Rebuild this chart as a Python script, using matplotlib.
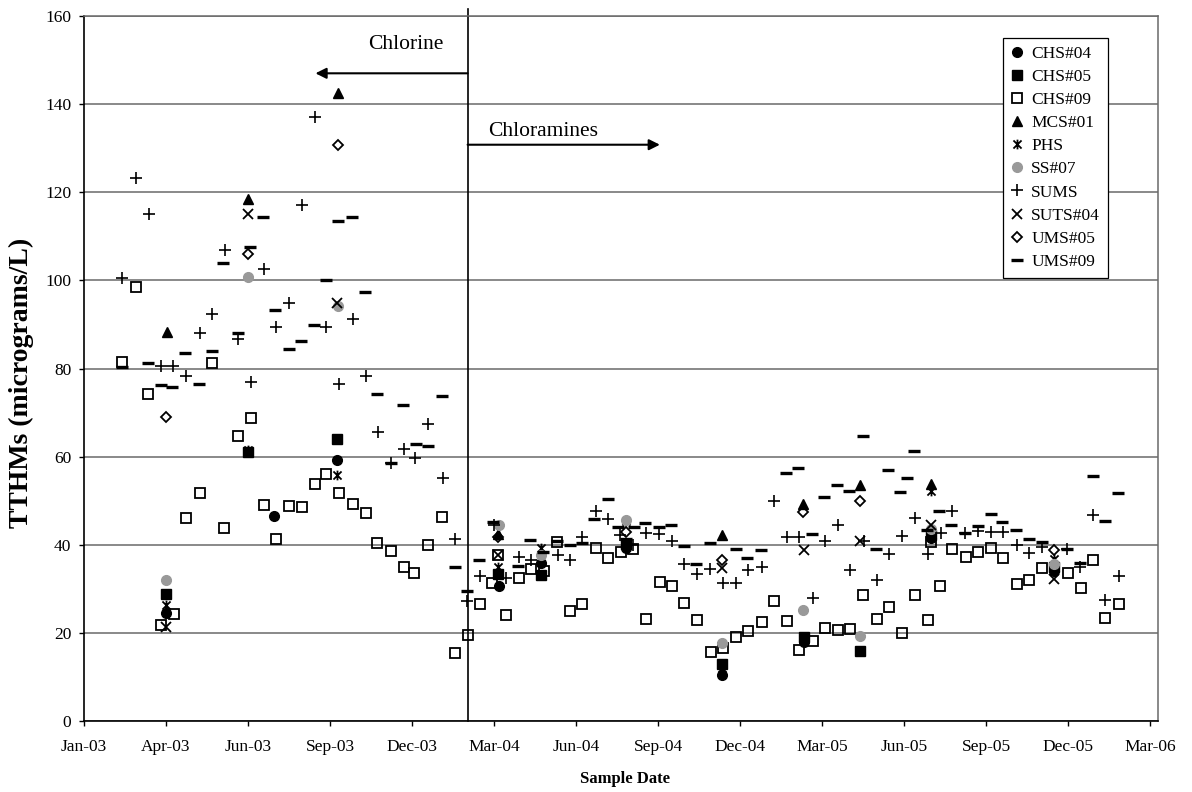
import pandas as pd
import matplotlib
matplotlib.use("Agg")
import matplotlib.pyplot as plt
import matplotlib.dates as mdates
from matplotlib.path import Path

plt.rcParams['font.family'] = ['Liberation Serif', 'DejaVu Serif']

# sample data (TTHMs, micrograms/L)
chs04_dates = ['2003-04-01', '2003-07-29', '2003-10-06', '2004-03-31', '2004-05-17', '2004-08-18',
               '2004-12-01', '2005-03-01', '2005-07-19', '2005-11-30']
chs04_vals = [24.6, 46.6, 59.3, 30.6, 36.0, 39.3, 10.5, 18.0, 41.5, 34.2]

chs05_dates = ['2003-04-01', '2003-06-30', '2003-10-06', '2004-03-30', '2004-05-17', '2004-08-18',
               '2004-12-01', '2005-03-01', '2005-05-02', '2005-07-19', '2005-11-30']
chs05_vals = [28.8, 61.0, 64.1, 33.5, 33.3, 40.2, 13.1, 19.2, 16.0, 42.2, 34.9]

chs09_dates = ['2003-02-12', '2003-02-27', '2003-03-12', '2003-03-27', '2003-04-10', '2003-04-23',
               '2003-05-08', '2003-05-22', '2003-06-04', '2003-06-19', '2003-07-03', '2003-07-17',
               '2003-07-31', '2003-08-14', '2003-08-28', '2003-09-11', '2003-09-24', '2003-10-08',
               '2003-10-23', '2003-11-06', '2003-11-19', '2003-12-04', '2003-12-18', '2003-12-29',
               '2004-01-14', '2004-01-29', '2004-02-12', '2004-02-26', '2004-03-11', '2004-03-24',
               '2004-03-30', '2004-04-08', '2004-04-22', '2004-05-06', '2004-05-20', '2004-06-03',
               '2004-06-17', '2004-07-01', '2004-07-16', '2004-07-29', '2004-08-12', '2004-08-26',
               '2004-09-09', '2004-09-24', '2004-10-07', '2004-10-21', '2004-11-04', '2004-11-19',
               '2004-12-02', '2004-12-17', '2004-12-30', '2005-01-14', '2005-01-27', '2005-02-10',
               '2005-02-24', '2005-03-11', '2005-03-24', '2005-04-07', '2005-04-21', '2005-05-05',
               '2005-05-20', '2005-06-02', '2005-06-17', '2005-07-01', '2005-07-15', '2005-07-19',
               '2005-07-28', '2005-08-11', '2005-08-26', '2005-09-08', '2005-09-22', '2005-10-06',
               '2005-10-21', '2005-11-03', '2005-11-17', '2005-12-16', '2005-12-30', '2006-01-12',
               '2006-01-26', '2006-02-10']
chs09_vals = [81.6, 98.6, 74.3, 21.8, 24.3, 46.1, 51.8, 81.2, 43.9, 64.8, 68.9, 49.1,
              41.4, 48.9, 48.6, 53.9, 56.1, 51.8, 49.3, 47.3, 40.5, 38.6, 35.0, 33.6,
              40.0, 46.4, 15.6, 19.5, 26.6, 31.4, 37.7, 24.2, 32.5, 34.6, 34.2, 40.7,
              25.1, 26.7, 39.3, 37.1, 38.4, 39.0, 23.2, 31.5, 30.6, 26.9, 22.9, 15.8,
              16.7, 19.2, 20.5, 22.6, 27.3, 22.7, 16.2, 18.3, 21.1, 20.8, 20.9, 28.6,
              23.1, 26.0, 20.1, 28.6, 22.9, 40.7, 30.7, 39.0, 37.3, 38.4, 39.3, 37.1,
              31.1, 32.0, 34.7, 33.7, 30.3, 36.5, 23.5, 26.7]

mcs01_dates = ['2003-04-02', '2003-06-30', '2003-10-07', '2004-03-30', '2004-12-01', '2005-02-28',
               '2005-05-02', '2005-07-19']
mcs01_vals = [88.4, 118.4, 142.5, 42.6, 42.2, 49.4, 53.7, 53.9]

phs_dates = ['2003-04-01', '2003-06-30', '2003-10-06', '2004-03-30', '2004-05-17', '2004-08-18',
             '2004-12-01', '2005-03-01', '2005-07-19', '2005-11-30']
phs_vals = [26.4, 61.6, 55.9, 35.0, 39.4, 45.5, 12.0, 18.6, 52.3, 36.8]

ss07_dates = ['2003-04-01', '2003-06-30', '2003-10-07', '2004-03-31', '2004-05-17', '2004-08-18',
              '2004-12-01', '2005-02-28', '2005-05-02', '2005-07-19', '2005-11-30']
ss07_vals = [32.0, 100.9, 94.3, 44.6, 37.8, 45.6, 17.8, 25.2, 19.4, 43.7, 35.6]

sums_dates = ['2003-02-12', '2003-02-27', '2003-03-13', '2003-03-26', '2003-04-09', '2003-04-23',
              '2003-05-08', '2003-05-22', '2003-06-05', '2003-06-19', '2003-07-03', '2003-07-17',
              '2003-07-31', '2003-08-14', '2003-08-28', '2003-09-11', '2003-09-24', '2003-10-08',
              '2003-10-23', '2003-11-06', '2003-11-20', '2003-12-04', '2003-12-18', '2003-12-30',
              '2004-01-14', '2004-01-30', '2004-02-12', '2004-02-25', '2004-03-11', '2004-03-26',
              '2004-04-08', '2004-04-22', '2004-05-06', '2004-06-04', '2004-06-17', '2004-07-01',
              '2004-07-16', '2004-07-29', '2004-08-11', '2004-08-26', '2004-09-09', '2004-09-23',
              '2004-10-07', '2004-10-21', '2004-11-04', '2004-11-18', '2004-12-02', '2004-12-17',
              '2004-12-30', '2005-01-14', '2005-01-27', '2005-02-10', '2005-02-24', '2005-03-11',
              '2005-03-24', '2005-04-07', '2005-04-21', '2005-05-06', '2005-05-20', '2005-06-02',
              '2005-06-17', '2005-07-01', '2005-07-15', '2005-07-29', '2005-08-11', '2005-08-25',
              '2005-09-08', '2005-09-22', '2005-10-06', '2005-10-21', '2005-11-03', '2005-11-17',
              '2005-12-15', '2005-12-29', '2006-01-12', '2006-01-26', '2006-02-10']
sums_vals = [100.5, 123.2, 115.0, 80.5, 80.5, 78.4, 88.0, 92.5, 107.0, 86.8, 77.0, 102.5,
             89.5, 94.8, 117.2, 137.0, 89.4, 76.6, 91.3, 78.4, 65.7, 58.6, 61.8, 59.8,
             67.5, 55.2, 41.4, 27.3, 32.9, 44.5, 32.6, 37.3, 36.5, 37.8, 36.5, 41.8,
             47.7, 45.8, 42.2, 39.9, 42.8, 42.4, 40.9, 35.6, 33.5, 34.6, 31.3, 31.3,
             34.3, 35.0, 50.0, 41.7, 41.8, 27.9, 40.8, 44.5, 34.4, 41.0, 32.0, 37.9,
             42.0, 46.1, 38.0, 42.7, 47.7, 42.8, 43.2, 42.9, 42.9, 39.9, 38.2, 39.5,
             39.0, 34.9, 46.7, 27.6, 32.9]

suts04_dates = ['2003-04-01', '2003-06-30', '2003-10-06', '2004-03-30', '2004-12-01', '2005-03-01',
                '2005-05-02', '2005-07-19', '2005-11-30']
suts04_vals = [21.4, 115.0, 94.8, 37.7, 34.8, 38.8, 40.8, 44.5, 32.3]

ums05_dates = ['2003-04-01', '2003-06-30', '2003-10-07', '2004-03-30', '2004-08-18', '2004-12-01',
               '2005-02-28', '2005-05-02', '2005-11-30']
ums05_vals = [69.1, 106.0, 130.7, 41.8, 42.9, 36.5, 47.4, 49.9, 38.8]

ums09_dates = ['2003-02-12', '2003-03-12', '2003-03-26', '2003-04-08', '2003-04-22', '2003-05-07',
               '2003-05-21', '2003-06-03', '2003-06-19', '2003-07-02', '2003-07-16', '2003-07-30',
               '2003-08-14', '2003-08-27', '2003-09-10', '2003-09-24', '2003-10-07', '2003-10-22',
               '2003-11-05', '2003-11-19', '2003-12-04', '2003-12-17', '2003-12-31', '2004-01-14',
               '2004-01-29', '2004-02-12', '2004-02-25', '2004-03-10', '2004-03-25', '2004-04-21',
               '2004-05-05', '2004-05-19', '2004-06-03', '2004-06-17', '2004-07-01', '2004-07-14',
               '2004-07-29', '2004-08-09', '2004-08-18', '2004-08-27', '2004-09-08', '2004-09-23',
               '2004-10-06', '2004-10-20', '2004-11-03', '2004-11-18', '2004-12-16', '2004-12-29',
               '2005-01-13', '2005-02-09', '2005-02-23', '2005-03-10', '2005-03-23', '2005-04-06',
               '2005-04-20', '2005-05-05', '2005-05-19', '2005-06-01', '2005-06-15', '2005-06-22',
               '2005-06-30', '2005-07-14', '2005-07-27', '2005-08-10', '2005-08-25', '2005-09-08',
               '2005-09-22', '2005-10-05', '2005-10-20', '2005-11-03', '2005-11-17', '2005-12-15',
               '2005-12-29', '2006-01-12', '2006-01-25', '2006-02-09']
ums09_vals = [80.3, 81.2, 76.4, 75.9, 83.6, 76.6, 84.1, 104.0, 88.0, 107.5, 114.3, 93.2,
              84.5, 86.2, 89.9, 100.0, 113.4, 114.3, 97.5, 74.3, 58.6, 71.8, 63.0, 62.5,
              73.9, 35.0, 29.5, 36.5, 45.2, 35.2, 41.1, 38.4, 41.0, 40.1, 40.5, 45.8,
              50.4, 44.1, 41.3, 44.1, 45.0, 44.1, 44.5, 39.7, 35.6, 40.5, 39.2, 37.1,
              38.8, 56.3, 57.4, 42.4, 50.9, 53.7, 52.2, 64.7, 39.0, 57.1, 52.0, 55.2,
              61.3, 43.3, 47.7, 44.5, 42.8, 44.3, 47.1, 45.2, 43.3, 41.4, 40.7, 39.0,
              35.9, 55.6, 45.4, 51.9]

switch_date = '2004-02-26'  # chlorine -> chloramines

# Excel-like star marker: an X with a vertical bar
star = Path([(-1, -1), (1, 1), (-1, 1), (1, -1), (0, -1.2), (0, 1.2)],
            [Path.MOVETO, Path.LINETO, Path.MOVETO, Path.LINETO, Path.MOVETO, Path.LINETO])

series = [
    ('CHS#04', chs04_dates, chs04_vals, dict(marker='o', ms=7, color='black', mec='black')),
    ('CHS#05', chs05_dates, chs05_vals, dict(marker='s', ms=6.5, color='black', mec='black')),
    ('CHS#09', chs09_dates, chs09_vals, dict(marker='s', ms=6.8, mfc='none', mec='black', mew=1.3)),
    ('MCS#01', mcs01_dates, mcs01_vals, dict(marker='^', ms=7.5, color='black', mec='black')),
    ('PHS', phs_dates, phs_vals, dict(marker=star, ms=7, mfc='none', mec='black', mew=1.3)),
    ('SS#07', ss07_dates, ss07_vals, dict(marker='o', ms=7, color='#999999', mec='#999999')),
    ('SUMS', sums_dates, sums_vals, dict(marker='+', ms=8.5, mec='black', mew=1.2)),
    ('SUTS#04', suts04_dates, suts04_vals, dict(marker='x', ms=7, mec='black', mew=1.3)),
    ('UMS#05', ums05_dates, ums05_vals, dict(marker='D', ms=5, mfc='none', mec='black', mew=1.3)),
    ('UMS#09', ums09_dates, ums09_vals, dict(marker='_', ms=8, mec='black', mew=2.4)),
]

fig = plt.figure(figsize=(11.92, 7.92), dpi=100)
ax = fig.add_axes([84 / 1192, 1 - 721.3 / 792, 1074.3 / 1192, 705.3 / 792])

for name, d, v, style in series:
    ax.plot(pd.to_datetime(d), v, linestyle='none', label=name, zorder=3, **style)

start = pd.Timestamp('2003-01-01')
ticks = [start + pd.Timedelta(days=90 * k) for k in range(14)]
ax.set_xlim(start, start + pd.Timedelta(days=1179))
ax.set_xticks(ticks)
ax.xaxis.set_major_formatter(mdates.DateFormatter('%b-%y'))
ax.set_ylim(0, 160)
ax.set_yticks(range(0, 161, 20))

ax.grid(axis='y', color='#6a6a6a', linewidth=1.1, zorder=0)
ax.set_axisbelow(True)
for s in ['top', 'right']:
    ax.spines[s].set_color('#6a6a6a')
    ax.spines[s].set_linewidth(1.1)
for s in ['left', 'bottom']:
    ax.spines[s].set_color('black')
    ax.spines[s].set_linewidth(1.2)
ax.tick_params(axis='both', direction='out', length=3.6, width=1, labelsize=12.5)
ax.tick_params(axis='x', pad=9)
ax.tick_params(axis='y', pad=5.5)

# chlorine / chloramines switch
sw = pd.Timestamp(switch_date)
ax.axvline(sw, ymin=0, ymax=1.01, color='black', linewidth=1.2, clip_on=False, zorder=2)
ax.annotate('', xy=(pd.Timestamp('2003-09-12'), 147), xytext=(sw, 147),
            arrowprops=dict(arrowstyle='-|>', color='black', lw=1.5, mutation_scale=16,
                            shrinkA=0, shrinkB=0))
ax.annotate('', xy=(pd.Timestamp('2004-09-24'), 130.8), xytext=(sw, 130.8),
            arrowprops=dict(arrowstyle='-|>', color='black', lw=1.5, mutation_scale=16,
                            shrinkA=0, shrinkB=0))
ax.text(pd.Timestamp('2004-01-31'), 153.6, 'Chlorine', ha='right', va='center', fontsize=15.5)
ax.text(pd.Timestamp('2004-03-20'), 133.9, 'Chloramines', ha='left', va='center', fontsize=15.5)

leg = ax.legend(loc='upper right', bbox_to_anchor=((1108 - 84) / 1074.3, (721.3 - 38) / 705.3),
                fontsize=12.5, frameon=True, fancybox=False, framealpha=1, edgecolor='black',
                borderaxespad=0, handlelength=0.8, handletextpad=0.4, labelspacing=0.4,
                borderpad=0.45, numpoints=1)
leg.get_frame().set_linewidth(0.9)

fig.text(21 / 1192, 1 - 383 / 792, 'TTHMs (micrograms/L)', rotation=90, ha='center', va='center',
         fontsize=20, fontweight='bold')
fig.text(625 / 1192, 1 - 779 / 792, 'Sample Date', ha='center', va='center',
         fontsize=12, fontweight='bold')

fig.savefig('out.png', dpi=100)
